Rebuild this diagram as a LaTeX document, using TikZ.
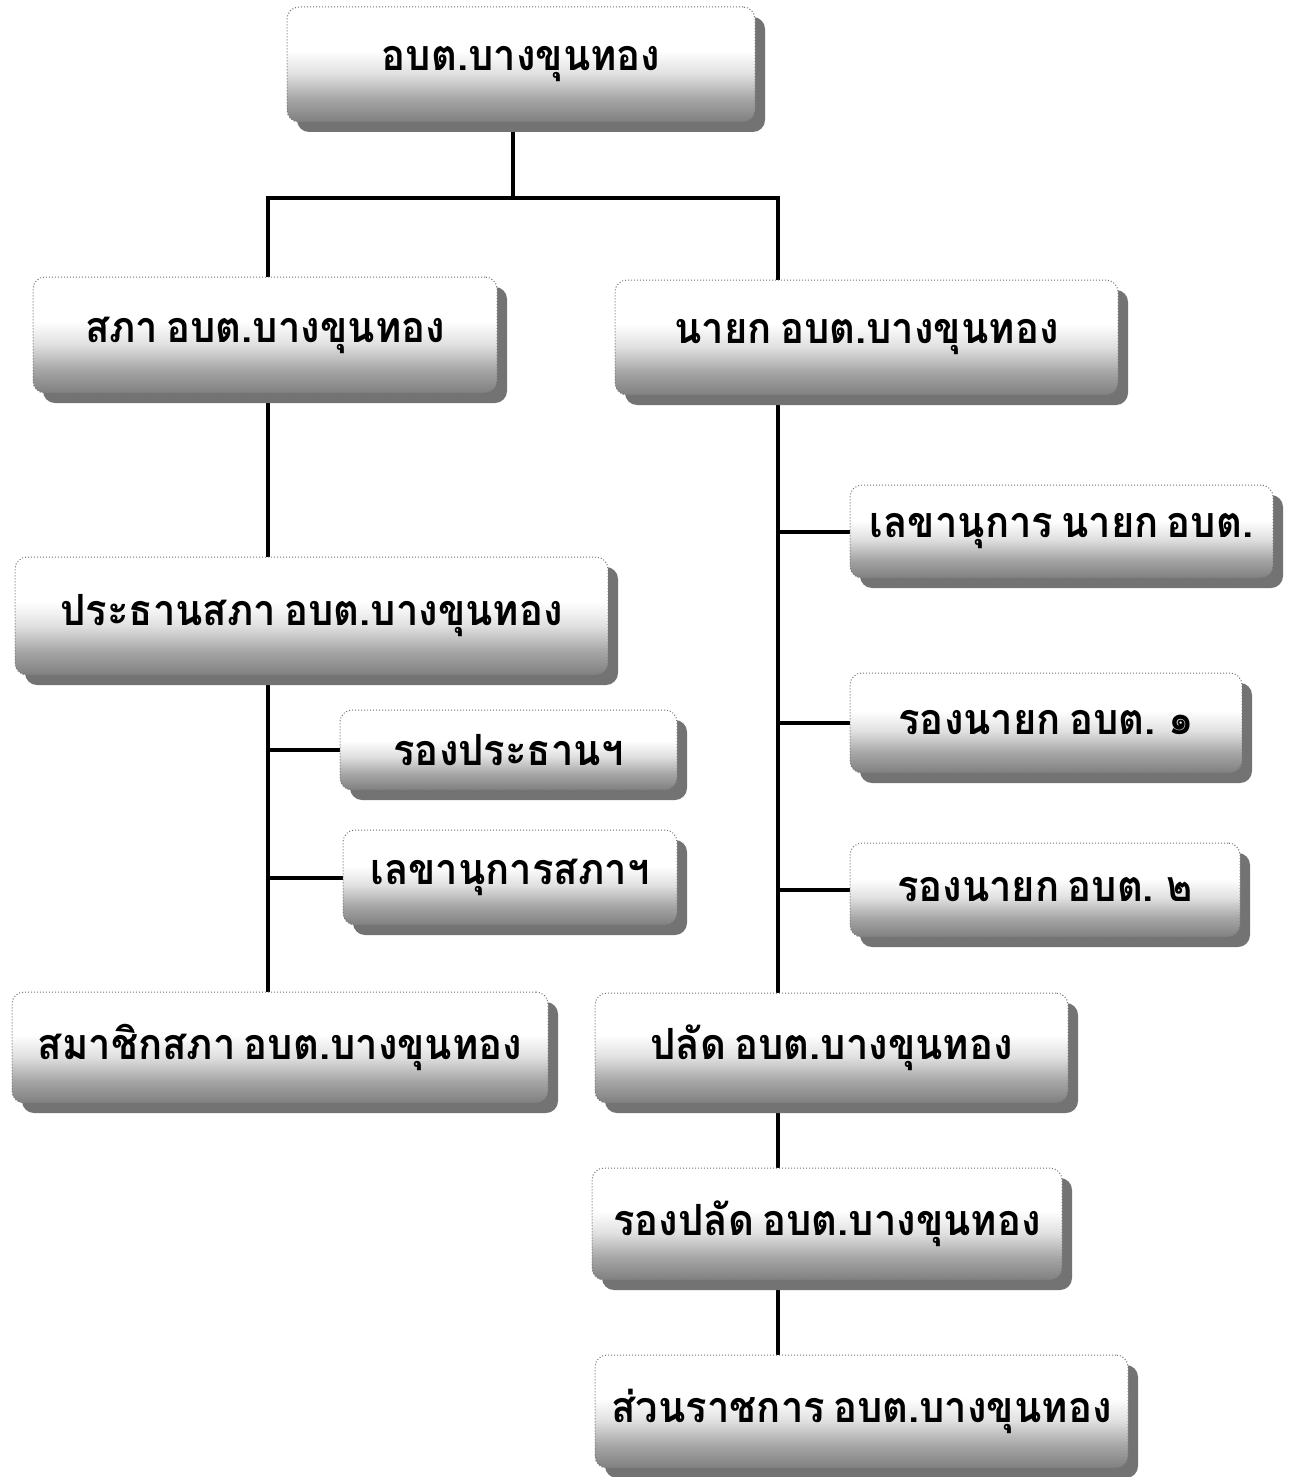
\documentclass[tikz,border=0pt]{standalone}
\usepackage{fontspec}
\newfontfamily\thaifont[Script=Thai, FakeStretch=0.93, WordSpace=0.6]{Loma}
\usetikzlibrary{shadows,backgrounds}
\pgfdeclareverticalshading{orgshade}{100bp}{color(0bp)=(black!50); color(25bp)=(black!50); color(35bp)=(black!35); color(46bp)=(black!12); color(56bp)=(white); color(100bp)=(white)}
\begin{document}
\begin{tikzpicture}[x=0.5pt,y=-0.5pt,
  orgbox/.style={rectangle, rounded corners=6pt, draw=black!55, densely dotted,
    line width=0.5pt, shading=orgshade,
    drop shadow={shadow xshift=5pt, shadow yshift=-5pt, fill=black!55, opacity=1},
    inner sep=0pt, align=center,
    font=\thaifont\bfseries\fontsize{21.5}{25}\selectfont},
  conn/.style={line width=2pt, draw=black, solid}]
\useasboundingbox (0,0) rectangle (1300,1477);

\node[orgbox, minimum width=234pt, minimum height=57.5pt] (top) at (521,64.5) {อบต.บางขุนทอง};
\node[orgbox, minimum width=232pt, minimum height=58pt] (sapha) at (265,335) {สภา อบต.บางขุนทอง};
\node[orgbox, minimum width=251.5pt, minimum height=57.5pt] (nayok) at (866.5,337.5) {นายก อบต.บางขุนทอง};
\node[orgbox, minimum width=296.5pt, minimum height=59pt] (prathan) at (311.5,616) {ประธานสภา อบต.บางขุนทอง};
\node[orgbox, minimum width=168.5pt, minimum height=40pt] (rongprathan) at (508.5,750) {รองประธานฯ};
\node[orgbox, minimum width=167pt, minimum height=47.5pt] (lekhasapha) at (510,877.5) {เลขานุการสภาฯ};
\node[orgbox, minimum width=268pt, minimum height=55.5pt] (samachik) at (280,1047.5) {สมาชิกสภา อบต.บางขุนทอง};
\node[orgbox, minimum width=211.5pt, minimum height=46.5pt] (lekhanayok) at (1061.5,531.5) {เลขานุการ นายก อบต.};
\node[orgbox, minimum width=196pt, minimum height=50pt] (rongnayok1) at (1046,723) {รองนายก อบต. ๑};
\node[orgbox, minimum width=195pt, minimum height=47pt] (rongnayok2) at (1045,890) {รองนายก อบต. ๒};
\node[orgbox, minimum width=236.5pt, minimum height=55pt] (palad) at (831.5,1048) {ปลัด อบต.บางขุนทอง};
\node[orgbox, minimum width=235pt, minimum height=56pt] (rongpalad) at (827,1224) {รองปลัด อบต.บางขุนทอง};
\node[orgbox, minimum width=266.5pt, minimum height=56.5pt] (suan) at (861.5,1411.5) {ส่วนราชการ อบต.บางขุนทอง};

\coordinate (jt) at (513,198);
\coordinate (jl) at (268,198);
\coordinate (jr) at (778,198);

\begin{scope}[on background layer]
\draw[conn] (top.south -| jt) -- (jt);
\draw[conn] (sapha.north -| jl) -- (jl) -- (jr) -- (nayok.north -| jr);
\draw[conn] (sapha.south -| jl) -- (prathan.north -| jl);
\draw[conn] (prathan.south -| jl) -- (samachik.north -| jl);
\draw[conn] (rongprathan.west -| jl) -- (rongprathan.west);
\draw[conn] (lekhasapha.west -| jl) -- (lekhasapha.west);
\draw[conn] (nayok.south -| jr) -- (palad.north -| jr);
\draw[conn] (lekhanayok.west -| jr) -- (lekhanayok.west);
\draw[conn] (rongnayok1.west -| jr) -- (rongnayok1.west);
\draw[conn] (rongnayok2.west -| jr) -- (rongnayok2.west);
\draw[conn] (palad.south -| jr) -- (rongpalad.north -| jr);
\draw[conn] (rongpalad.south -| jr) -- (suan.north -| jr);
\end{scope}
\end{tikzpicture}
\end{document}
